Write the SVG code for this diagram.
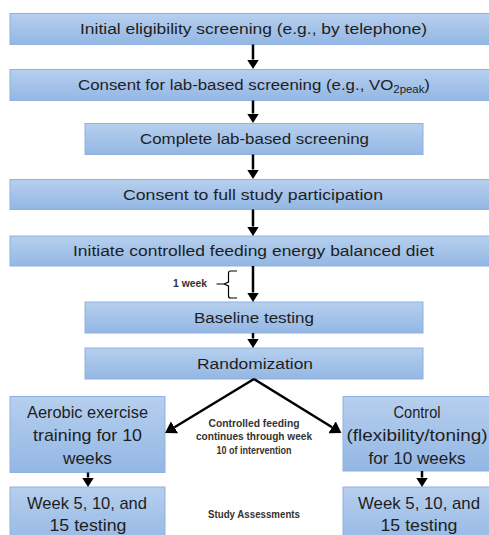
<svg xmlns="http://www.w3.org/2000/svg" width="489" height="535" viewBox="0 0 489 535">
<defs>
<linearGradient id="g" x1="0" y1="0" x2="0" y2="1">
<stop offset="0" stop-color="#b6cfee"/>
<stop offset="1" stop-color="#93b7e4"/>
</linearGradient>
<marker id="ah" markerUnits="userSpaceOnUse" markerWidth="10" markerHeight="12" refX="0" refY="6" orient="auto" viewBox="0 0 10 12">
<path d="M0,0 L9.5,6 L0,12 z" fill="#000"/>
</marker>
<marker id="ah2" markerUnits="userSpaceOnUse" markerWidth="12" markerHeight="14" refX="0" refY="7" orient="auto" viewBox="0 0 12 14">
<path d="M0,0 L11,7 L0,14 z" fill="#000"/>
</marker>
<style>
.box{fill:url(#g);stroke:#8fb1de;stroke-width:1}
.t{font-family:"Liberation Sans",Arial,sans-serif;font-size:15.5px;fill:#1e1e1e;text-anchor:middle}
.t2{font-family:"Liberation Sans",Arial,sans-serif;font-size:17px;fill:#1e1e1e;text-anchor:middle}
.b{font-family:"Liberation Sans",Arial,sans-serif;font-size:10px;font-weight:bold;fill:#333;text-anchor:middle}
.c{stroke:#000;stroke-width:2.5;fill:none;marker-end:url(#ah)}
.d{stroke:#000;stroke-width:2.5;fill:none;marker-end:url(#ah2)}
</style>
</defs>
<rect width="489" height="535" fill="#fff"/>
<g id="n1"><rect class="box" x="10" y="13.5" width="482" height="31"/><text class="t" x="253.5" y="34" textLength="347" lengthAdjust="spacingAndGlyphs">Initial eligibility screening (e.g., by telephone)</text></g>
<g id="n2"><rect class="box" x="10" y="69.5" width="482" height="31"/><text class="t" x="78" y="90" style="text-anchor:start" textLength="352" lengthAdjust="spacingAndGlyphs">Consent for lab-based screening (e.g., VO<tspan font-size="10.5" dy="3">2peak</tspan><tspan dy="-3">)</tspan></text></g>
<g id="n3"><rect class="box" x="85" y="123.5" width="338" height="31"/><text class="t" x="254.5" y="144" textLength="229" lengthAdjust="spacingAndGlyphs">Complete lab-based screening</text></g>
<g id="n4"><rect class="box" x="10" y="179.5" width="482" height="30"/><text class="t" x="253" y="199.5" textLength="260" lengthAdjust="spacingAndGlyphs">Consent to full study participation</text></g>
<g id="n5"><rect class="box" x="10" y="236" width="482" height="30"/><text class="t" x="253.5" y="256" textLength="361" lengthAdjust="spacingAndGlyphs">Initiate controlled feeding energy balanced diet</text></g>
<g id="n6"><rect class="box" x="85" y="302" width="338" height="31"/><text class="t" x="254" y="322.5" textLength="120" lengthAdjust="spacingAndGlyphs">Baseline testing</text></g>
<g id="n7"><rect class="box" x="85" y="348" width="338" height="31"/><text class="t" x="255" y="369" textLength="116" lengthAdjust="spacingAndGlyphs">Randomization</text></g>
<g id="n8"><rect class="box" x="10" y="396.5" width="155" height="76"/>
<text class="t2" x="87.5" y="418" textLength="121" lengthAdjust="spacingAndGlyphs">Aerobic exercise</text>
<text class="t2" x="87.5" y="441" textLength="109" lengthAdjust="spacingAndGlyphs">training for 10</text>
<text class="t2" x="87.5" y="464" textLength="49" lengthAdjust="spacingAndGlyphs">weeks</text></g>
<g id="n9"><rect class="box" x="343" y="396.5" width="150" height="74.5"/>
<text class="t2" x="417" y="418" textLength="47" lengthAdjust="spacingAndGlyphs">Control</text>
<text class="t2" x="417" y="441" textLength="141" lengthAdjust="spacingAndGlyphs">(flexibility/toning)</text>
<text class="t2" x="417" y="464" textLength="97" lengthAdjust="spacingAndGlyphs">for 10 weeks</text></g>
<g id="n10"><rect class="box" x="10" y="487" width="155" height="60"/>
<text class="t2" x="87" y="508.5" textLength="120" lengthAdjust="spacingAndGlyphs">Week 5, 10, and</text>
<text class="t2" x="88" y="530.5" textLength="77" lengthAdjust="spacingAndGlyphs">15 testing</text></g>
<g id="n11"><rect class="box" x="343" y="487" width="150" height="60"/>
<text class="t2" x="419" y="508.5" textLength="122" lengthAdjust="spacingAndGlyphs">Week 5, 10, and</text>
<text class="t2" x="419" y="530.5" textLength="77" lengthAdjust="spacingAndGlyphs">15 testing</text></g>
<g id="labels">
<text class="b" x="190" y="287" textLength="34" lengthAdjust="spacingAndGlyphs">1 week</text>
<text class="b" x="254" y="426.5" textLength="91" lengthAdjust="spacingAndGlyphs">Controlled feeding</text>
<text class="b" x="254" y="440" textLength="116" lengthAdjust="spacingAndGlyphs">continues through week</text>
<text class="b" x="254" y="453.5" textLength="75" lengthAdjust="spacingAndGlyphs">10 of intervention</text>
<text class="b" x="254" y="518" textLength="92" lengthAdjust="spacingAndGlyphs">Study Assessments</text>
<path d="M216.5,284 L224,284 M237,271 L230.5,271 Q228.5,271 228.5,273 L228.5,282 L224,284 L228.5,286 L228.5,296 Q228.5,298 230.5,298 L237,298" fill="none" stroke="#000" stroke-width="1.2"/>
</g>
<g id="connectors">
<line class="c" x1="253" y1="44.5" x2="253" y2="59.5"/>
<line class="c" x1="253" y1="100.5" x2="253" y2="113.5"/>
<line class="c" x1="253" y1="154.5" x2="253" y2="169.5"/>
<line class="c" x1="253" y1="209.5" x2="253" y2="226.5"/>
<line class="c" x1="253" y1="266" x2="253" y2="292.5"/>
<line class="c" x1="253" y1="333" x2="253" y2="338.5"/>
<polyline class="d" points="254,379 174.5,427.3"/>
<polyline class="d" points="254,379 332.1,427.3"/>
<line class="c" x1="88" y1="472.5" x2="88" y2="477.5"/>
<line class="c" x1="422" y1="471" x2="422" y2="477.5"/>
</g>
</svg>
